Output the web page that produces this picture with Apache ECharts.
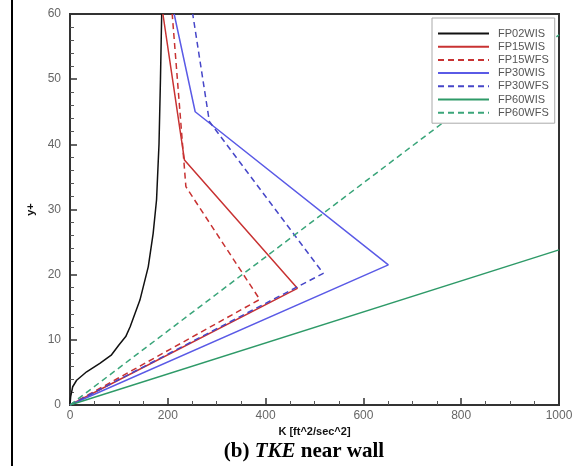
<!DOCTYPE html>
<html>
<head>
<meta charset="utf-8">
<script src="https://cdn.jsdelivr.net/npm/echarts@6/dist/echarts.min.js"></script>
<style>
html,body{margin:0;padding:0;background:#fff;}
#chart{width:579px;height:466px;}
</style>
</head>
<body>
<div id="chart"></div>
<script>
// ---- data ----
var seriesNames = ['FP02WIS','FP15WIS','FP15WFS','FP30WIS','FP30WFS','FP60WIS','FP60WFS'];

var fp02wisK = [0, 1.4, 5.5, 13.6, 34, 61, 85, 100, 114, 123, 143, 160, 170, 177, 182, 185, 187.5];
var fp02wisY = [0, 1.3, 2.8, 3.8, 5.1, 6.4, 7.7, 9.2, 10.5, 12, 16.1, 21.2, 26.3, 31.5, 40, 50, 60];

var fp15wisK = [0, 465, 234, 190];
var fp15wisY = [0, 17.9, 37.6, 60];

var fp15wfsK = [0, 388, 237, 209];
var fp15wfsY = [0, 16.2, 33.5, 60];

var fp30wisK = [0, 651, 256, 213];
var fp30wisY = [0, 21.5, 45, 60];

var fp30wfsK = [0, 518, 285, 251];
var fp30wfsY = [0, 20.2, 43.5, 60];

var fp60wisK = [0, 1000];
var fp60wisY = [0, 23.8];

var fp60wfsK = [0, 1000];
var fp60wfsY = [0, 56.8];

var xTicks = [0, 200, 400, 600, 800, 1000];
var yTicks = [0, 10, 20, 30, 40, 50, 60];

// ---- build ----
function pairs(k, y) { var out = []; for (var i = 0; i < k.length; i++) out.push([k[i], y[i]]); return out; }

var styles = [
  {color:'#111111', type:'solid'},
  {color:'#c83232', type:'solid'},
  {color:'#c83232', type:[6,4]},
  {color:'#5a5ae6', type:'solid'},
  {color:'#4646c8', type:[6,4]},
  {color:'#2e9a68', type:'solid'},
  {color:'#3aa57a', type:[6,4]}
];
var dataSets = [
  pairs(fp02wisK, fp02wisY),
  pairs(fp15wisK, fp15wisY),
  pairs(fp15wfsK, fp15wfsY),
  pairs(fp30wisK, fp30wisY),
  pairs(fp30wfsK, fp30wfsY),
  pairs(fp60wisK, fp60wisY),
  pairs(fp60wfsK, fp60wfsY)
];

var series = seriesNames.map(function (n, i) {
  return {
    name: n, type: 'line', data: dataSets[i], symbol: 'none', showSymbol: false,
    smooth: false, animation: false, clip: true,
    itemStyle: {color: styles[i].color},
    lineStyle: {color: styles[i].color, width: 1.5, type: styles[i].type}
  };
});

var chart = echarts.init(document.getElementById('chart'), null, {renderer: 'canvas'});
chart.setOption({
  animation: false,
  backgroundColor: '#ffffff',
  grid: {left: 70, top: 14, right: 20, bottom: 61, show: true, borderColor: '#333', borderWidth: 2, backgroundColor: 'transparent'},
  title: {
    text: '{a|(b) }{b|TKE}{a| near wall}',
    left: 299, textAlign: 'center', top: 436,
    textStyle: {
      rich: {
        a: {fontFamily: 'Liberation Serif', fontWeight: 'bold', fontSize: 21, color: '#000'},
        b: {fontFamily: 'Liberation Serif', fontWeight: 'bold', fontStyle: 'italic', fontSize: 21, color: '#000'}
      }
    }
  },
  legend: {
    data: seriesNames,
    orient: 'vertical', left: 432, top: 18, align: 'left',
    backgroundColor: '#fff', borderColor: '#aaa', borderWidth: 1, borderRadius: 0,
    padding: [10, 6, 5, 5],
    itemWidth: 51, itemHeight: 10, itemGap: 2.2,
    itemStyle: {opacity: 0},
    textStyle: {fontFamily: 'Liberation Sans', fontSize: 11, color: '#555', lineHeight: 11, padding: [0, 0, 0, 4]}
  },
  xAxis: {
    type: 'value', min: xTicks[0], max: xTicks[xTicks.length - 1], interval: 200,
    name: 'K [ft^2/sec^2]', nameLocation: 'middle', nameGap: 19,
    nameTextStyle: {fontFamily: 'Liberation Sans', fontWeight: 'bold', fontSize: 11, color: '#111'},
    axisLine: {show: true, onZero: false, lineStyle: {color: '#333', width: 2}},
    axisTick: {show: true, inside: true, length: 7, lineStyle: {color: '#333', width: 1.5}},
    minorTick: {show: true, splitNumber: 4, length: 4, lineStyle: {color: '#555', width: 1}},
    axisLabel: {margin: 5, fontFamily: 'Liberation Sans', fontSize: 12, color: '#666',
      formatter: function (v) { return xTicks.indexOf(v) >= 0 ? String(v) : ''; }},
    splitLine: {show: false}
  },
  yAxis: {
    type: 'value', min: yTicks[0], max: yTicks[yTicks.length - 1], interval: 10,
    name: 'y+', nameLocation: 'middle', nameGap: 30, nameRotate: 90,
    nameTextStyle: {fontFamily: 'Liberation Sans', fontWeight: 'bold', fontSize: 11, color: '#111'},
    axisLine: {show: true, onZero: false, lineStyle: {color: '#333', width: 2}},
    axisTick: {show: true, inside: true, length: 7, lineStyle: {color: '#333', width: 1.5}},
    minorTick: {show: true, splitNumber: 5, length: 4, lineStyle: {color: '#555', width: 1}},
    axisLabel: {margin: 9, fontFamily: 'Liberation Sans', fontSize: 12, color: '#666',
      formatter: function (v) { return yTicks.indexOf(v) >= 0 ? String(v) : ''; }},
    splitLine: {show: false}
  },
  graphic: [
    {type: 'line', shape: {x1: 12, y1: 0, x2: 12, y2: 466}, style: {stroke: '#000', lineWidth: 2}, silent: true}
  ],
  series: series
});
</script>
</body>
</html>
